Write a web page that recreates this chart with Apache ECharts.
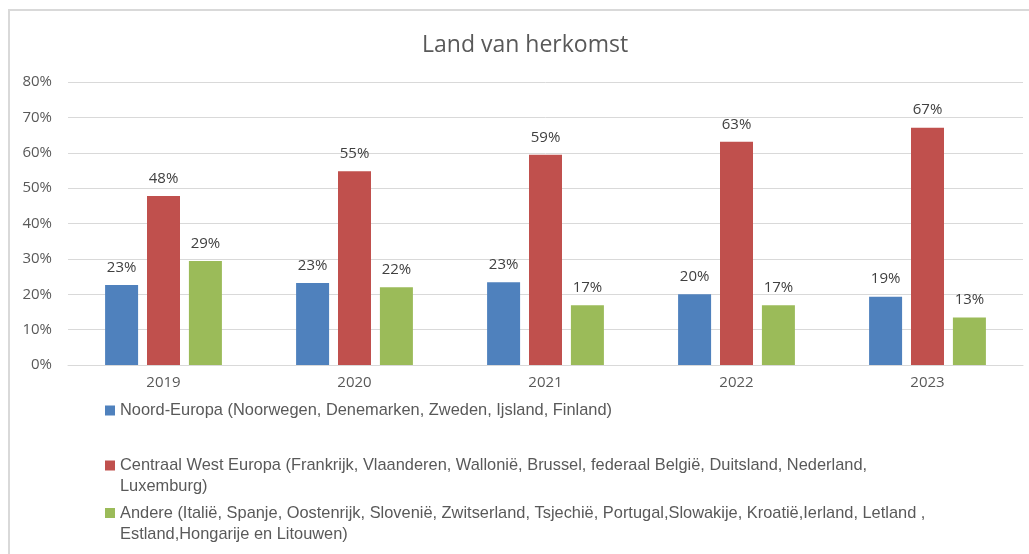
<!DOCTYPE html>
<html>
<head>
<meta charset="utf-8">
<script src="https://cdn.jsdelivr.net/npm/echarts@6/dist/echarts.min.js"></script>
<style>html,body{margin:0;padding:0;background:#fff}#c{width:1029px;height:554px}</style>
</head>
<body>
<div id="c"></div>
<script>
const categories = ['2019', '2020', '2021', '2022', '2023'];
const seriesNames = [
  'Noord-Europa (Noorwegen, Denemarken, Zweden, Ijsland, Finland)',
  'Centraal West Europa (Frankrijk, Vlaanderen, Wallonië, Brussel, federaal België, Duitsland, Nederland, Luxemburg)',
  'Andere (Italië, Spanje, Oostenrijk, Slovenië, Zwitserland, Tsjechië, Portugal,Slowakije, Kroatië,Ierland, Letland , Estland,Hongarije en Litouwen)'
];
const legendLines = [
  ['Noord-Europa (Noorwegen, Denemarken, Zweden, Ijsland, Finland)'],
  ['Centraal West Europa (Frankrijk, Vlaanderen, Wallonië, Brussel, federaal België, Duitsland, Nederland,', 'Luxemburg)'],
  ['Andere (Italië, Spanje, Oostenrijk, Slovenië, Zwitserland, Tsjechië, Portugal,Slowakije, Kroatië,Ierland, Letland ,', 'Estland,Hongarije en Litouwen)']
];
const noord = [22.6, 23.2, 23.4, 20.0, 19.3];
const centraal = [47.8, 54.8, 59.4, 63.1, 67.1];
const andere = [29.4, 22.0, 16.9, 16.9, 13.4];
const yTicks = [0, 10, 20, 30, 40, 50, 60, 70, 80];

const colors = ['#4f81bd', '#c0504d', '#9bbb59'];
const font = 'Liberation Sans, sans-serif';
const chart = echarts.init(document.getElementById('c'));
const values = [noord, centraal, andere];
const legendTops = [395, 429, 476.5];

const legends = seriesNames.map((n, i) => ({
  data: [n],
  left: 100,
  top: legendTops[i],
  orient: 'vertical',
  itemWidth: 10,
  itemHeight: 10,
  itemGap: 0,
  icon: 'rect',
  selectedMode: false,
  formatter: () => (legendLines[i].length > 1 ? '\n' : '') + legendLines[i].join('\n'),
  textStyle: { fontFamily: font, fontSize: 16.4, color: '#595959', lineHeight: 21 }
}));

chart.setOption({
  animation: false,
  color: colors,
  title: {
    text: 'Land van herkomst', left: 417, top: 29,
    textStyle: { fontFamily: 'Open Sans, sans-serif', fontSize: 23, fontWeight: 'normal', color: '#595959' }
  },
  graphic: [
    { type: 'line', shape: { x1: 8, y1: 10, x2: 1029, y2: 10 }, style: { stroke: '#d9d9d9', lineWidth: 2 } },
    { type: 'line', shape: { x1: 9, y1: 10, x2: 9, y2: 554 }, style: { stroke: '#d9d9d9', lineWidth: 2 } }
  ],
  legend: legends,
  grid: { left: 68, right: 6, top: 82, bottom: 189 },
  xAxis: {
    type: 'category', data: categories,
    axisLine: { lineStyle: { color: '#d9d9d9', width: 1 } },
    axisTick: { show: false },
    axisLabel: { fontFamily: 'Open Sans, sans-serif', fontSize: 15, color: '#595959', margin: 10 }
  },
  yAxis: {
    type: 'value', min: 0, max: 80, interval: 10,
    axisLabel: { fontFamily: 'Open Sans, sans-serif', fontSize: 15, color: '#595959', margin: 16,
      formatter: v => yTicks.includes(v) ? v + '%' : '' },
    splitLine: { lineStyle: { color: '#d9d9d9', width: 1 } },
    axisLine: { show: false }, axisTick: { show: false }
  },
  series: seriesNames.map((n, i) => ({
    name: n, type: 'bar', data: values[i],
    barWidth: 33, barGap: '27%',
    label: { show: true, position: 'top', distance: 10, fontFamily: 'Open Sans, sans-serif', fontSize: 15, color: '#404040',
      formatter: p => Math.round(p.value) + '%' }
  }))
});
</script>
</body>
</html>
